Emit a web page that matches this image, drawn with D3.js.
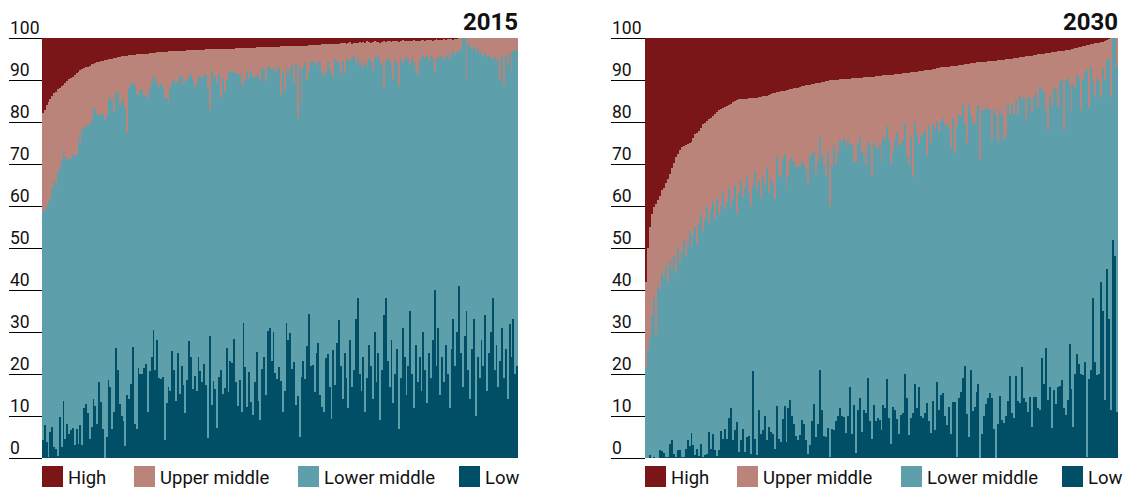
<!DOCTYPE html>
<html>
<head>
<meta charset="utf-8">
<script src="https://cdn.jsdelivr.net/npm/d3@7"></script>
<style>
  body { margin: 0; background: #fff; }
  svg text { font-family: Roboto, "Liberation Sans", sans-serif; fill: #111; }
</style>
</head>
<body>
<svg id="chart" width="1123" height="489"></svg>
<script>
// panels and legend
const years = ["2015", "2030"];
const seriesKeys = ["low", "lowerMiddle", "upperMiddle", "high"];
const seriesLabels = ["High", "Upper middle", "Lower middle", "Low"];
const yTicks = [0, 10, 20, 30, 40, 50, 60, 70, 80, 90, 100];

// 2015 - one entry per country, sorted by share of "High"
// share of high income
const high2015 = [
  17.9,17.2,16,15.2,14.6,13.8,13.2,12.8,12.2,11.8,11.4,11.1,10.6,10.2,9.8,9.5,9.2,8.7,8.3,8,7.7,7.4,7.2,7,6.8,6.6,6.3,6.1,5.9,5.8,5.6,
  5.5,5.4,5.3,5.2,5.1,5,4.9,4.8,4.7,4.6,4.5,4.4,4.4,4.3,4.2,4.1,4.1,4,4,3.9,3.9,3.8,3.8,3.8,3.7,3.7,3.6,3.6,3.5,3.5,
  3.4,3.4,3.4,3.3,3.3,3.3,3.2,3.2,3.2,3.1,3.1,3.1,3,3,3,3,2.9,2.9,2.9,2.9,
  2.9,2.9,2.8,2.8,2.8,2.8,2.7,2.7,2.7,2.7,2.7,2.6,2.6,2.6,2.6,2.6,2.5,2.5,2.5,2.5,
  2.5,2.5,2.4,2.4,2.4,2.4,2.4,2.3,2.3,2.3,2.3,2.3,2.3,2.2,2.2,2.2,2.2,2.2,2.2,2.2,
  2.2,2.1,2.1,2.1,2.1,2.1,2,2,2,2,2,1.9,1.9,1.9,1.9,1.9,1.9,1.8,1.8,1.8,
  1.8,1.7,1.7,1.7,1.6,1.6,1.6,1.6,1.5,1.5,1.5,1.5,1.5,1.4,1.4,1.4,1.4,1.4,1.3,1.3,
  1.3,1.5,1.2,1,1.4,1.2,1.1,1.3,0.9,1.1,1,1.2,0.8,1,1.1,0.9,0.7,1,0.9,1.1,
  0.9,0.8,1,0.7,0.8,0.9,0.6,0.8,0.7,0.9,0.7,0.5,0.7,0.8,0.6,0.6,0.7,0.5,0.6,0.7,
  0.6,0.4,0.5,0.6,0.5,0.4,0.5,0.6,0.4,0.3,0.4,0.5,0.4,0.3,0.4,0.3,0.2,0.3,0.4,0.3,
  0.2,0.1,
  0,0,0,0,0,0,0,0,0,0,0,0,0,0,0,0,0,0,0,0,0,0,0,0,0,0,0,0,0,0,0
];
// share of low + lower middle (top of the lower-middle band)
const upToLowerMid2015 = [
  58.5,59,60,62,61,64,66,65,68,69,71,73.5,72,71,71.5,71.3,72.3,72,72.5,77,
  75,78,78.5,79.2,79,79.5,80.8,83.5,83,82,81.6,82,82,80.4,81.6,86,85.5,85.2,82.5,87,
  87.2,84,85,85.2,83.3,77.3,88,89,89.2,88.5,86.4,86.4,87.6,87.6,86.4,86.4,85.7,88,89.5,91,
  90.5,89.5,88.3,
  89.2,88.2,85.6,85.6,84.5,88.2,89.6,90.1,89.2,89.6,90.9,90.6,88.8,89.6,90.1,90.9,91.4,90,88,89.3,
  90.6,90.8,90.4,91.4,91.2,88,82.8,92,90.3,91,89.3,91.4,85.6,90.4,87.2,90,92,91.8,92.4,91.6,
  91.6,91.4,91.2,89.2,88,90,92,90.4,92.4,90.8,90.8,91,91.4,90,92.6,92.6,89.6,93.3,92.8,92.4,
  93.3,92,92.4,93,86.4,92,87.6,93,91.2,92.6,93.6,89.2,94,81,93.2,84,92.8,94,90,92.4,
  94.3,94.6,94,93.2,94.4,94.4,92,91,92,94.4,92.4,92.2,90.8,95,94.4,94.4,
  91.5,94.5,91.6,94.8,95,94.5,95.2,95.6,94,95,93.5,94.8,92.8,94,93.6,95,94.6,92.5,95.4,95,
  96,94.2,93.5,88.4,94.5,95.2,94.6,93,90,94.8,93.8,88.5,95,94,95.2,94.8,95.3,93.8,95,94.2,
  92.5,91.2,94.5,95.8,96,95.2,95.8,94.6,96,95,92,94.8,95.5,95.2,95.6,94.8,95.4,96.2,95,96.5,
  96.8,96,96.6,97,97.5,100,100,90,99,97.8,97.5,98,96.8,97.3,96.2,96.8,95.8,96.5,95.4,96,
  95.2,94.8,95.5,94.6,95,90,96,88.8,95.8,94,96.5,92.5,96.8,97.2,97
];
// share of low income
const low2015 = [
  4.3,7.9,3.8,0.3,6.2,7.4,2.6,2.2,0.4,9.8,2.6,13.6,4.6,8.2,5.8,6.6,7.2,3,6.8,3.4,
  7.9,3.2,12,12.8,10.6,4.5,7.5,14,12.3,8,18,13.4,6.8,0,5,18.5,17,6.8,11,26.2,
  21,12.8,10,8.8,2.8,15,14,17.7,26.5,8,7,21.5,20,20,21.5,22.3,11,20.7,24,30.5,
  21,28,19,
  18.9,19.3,4.4,13,17,16,25.5,21,13.6,25,15.3,22,17.4,10.8,18.6,27.9,24.1,16.5,19.6,16,
  24,20.8,18,22.5,17.4,4.8,29.1,12.6,18.4,16.5,7.2,19.2,21,15.3,16.7,26.3,15.7,23,22.7,28.3,
  18.2,12.4,18.6,11,32.1,21.7,12.2,20.5,13.4,10.3,18.2,25.3,13.6,9.1,21.2,24.1,15,30.3,31,23.2,
  30,20.2,18.9,21.7,18.4,11,16,32.1,28,29.8,21.2,22.9,12.6,14.8,5.1,19.2,23.2,18.7,26.7,34.3,
  21.8,22.2,15.8,25.1,27.5,15,12.2,11,23.8,24.7,17,9.4,25.7,17.4,27.5,32.9,
  22,14,25,19,12,28,17,21,33,38,20,16,24,11,19,27,22,14,30,18,
  25,9,21,34,38,23,17,28,13,20,26,7,19,31,24,15,22,35,20,12,
  27,18,24,16,30,21,13,25,19,28,40,22,31,15,24,18,27,20,12,26,
  33,22,30,41,25,17,29,35,21,14,26,33,10,24,19,28,22,34,16,25,
  30,38,21,27,17,23,31,19,26,14,32,24,33,20,22
];

// 2030
const high2030 = [
  58,50,45,41.8,40.3,39.6,38.6,37.6,36.3,35.6,34.6,33.5,32.3,31,29.8,28.4,27.5,26.6,25.9,25.6,
  25.4,25.3,25.1,24.8,23.8,22.9,22.6,22.2,21.4,20.5,20.2,19.8,19.4,19,18.6,18.1,17.6,17.2,16.9,16.6,
  16.4,16.2,16,15.7,15.3,15,14.8,14.6,14.6,14.5,14.5,14.5,14.4,14.4,14.3,14.3,14.2,14.1,14,13.9,
  13.8,13.7,13.6,13.4,13.2,13.1,12.9,12.8,12.7,12.6,12.5,12.4,12.3,12.2,12.1,12,11.9,11.8,11.6,11.5,
  11.4,11.3,11.2,11.1,11,10.9,10.8,10.7,10.6,10.5,10.4,10.3,10.2,10.1,10.1,10,9.9,9.9,9.8,9.8,
  9.8,9.7,9.7,9.7,9.6,9.6,9.6,9.6,9.5,9.5,9.4,9.4,9.3,9.3,9.2,9.2,9.1,9.1,9,9,
  8.9,8.9,8.8,8.8,8.7,8.7,8.6,8.6,8.5,8.5,8.4,8.4,8.3,8.3,8.2,8.1,8.1,8,7.9,7.9,
  7.8,7.7,7.6,7.5,7.5,7.4,7.3,7.2,7.1,7,7,6.9,6.9,6.8,6.7,6.7,6.6,6.6,6.5,6.4,
  6.4,6.3,6.2,6.1,6,6,5.9,5.8,5.8,5.7,5.7,5.6,5.6,5.5,5.5,5.4,5.4,5.4,5.3,5.3,
  5.2,5.2,5.1,5.1,5,4.9,4.8,4.8,4.7,4.6,4.6,4.5,4.4,4.3,4.2,4.2,4.1,4,3.9,3.9,
  3.8,3.7,3.6,3.6,3.5,3.4,3.3,3.3,3.2,3.1,3.1,3,2.9,2.8,2.8,2.7,2.5,2.4,2.3,2.2,
  2.1,1.9,1.8,1.7,1.6,1.5,1.4,1.3,1.2,1.1,1,0.9,0.7,0.5,0.3,0.1,0,0,0
];
const upToLowerMid2030 = [
  21.5,26,28.6,34,38,29.6,41,40,44,43,46,42,47,45,48,44,50,47,49,52,
  48,51,54,50,53,55,51,56,58,54,57,60,56,59,61,57,62,58,60,63,
  59,61,64,60,62,65,58,63,66,62,64,67,63,60,65,68,64,66,62,67,
  65,69,63,
  66.4,65.3,61.7,71.6,67.6,66.8,71.2,72.4,64,67.2,70.4,71.6,70.4,69.2,69.4,69.6,70.8,70,68.5,65.3,
  71.6,72.4,72.8,67.6,70.8,76.5,72,69.7,67.2,73.2,60,69.5,74.4,70,72.6,75.8,75.2,76.3,74.4,75.6,
  74.6,74.8,70.4,70.4,74.8,76.5,72.8,72.2,69.7,75.2,74.4,67.2,75.2,74,73.6,74.8,70.8,76.5,75.8,79,
  76,70,73.2,75.8,77.6,74.4,74.8,75.6,79.8,72,69.7,76.5,66.8,80,77.2,74.8,76.7,77.2,78,72.2,
  79,
  75,79.6,78.4,80,77.6,80,81,79.2,79.2,78.4,74.1,81,72.6,79,81.6,81.2,84,79.8,74.9,84,
  81.6,79.8,79.6,82.7,84,71.2,82.8,82.8,83.4,83.2,83.2,75.6,82.8,81.6,75.2,82.8,81.6,75.8,76.8,84.3,
  81.6,84.3,82,85.2,81.6,86.4,85.2,86,80.8,85.6,85.6,82.4,86,86.8,83.6,88.5,87.6,87.2,82.8,78.2,
  86,83.7,88,87.6,83.6,89.6,90,78,90,90.4,88.8,82.4,88.8,88.2,91.2,90.4,82.8,90,92,92.3,
  83.6,93.2,89.6,86,90.4,89.6,85.9,92.7,90,94.7,95.1,85.9,100,100,93
];
const low2030 = [
  0,0,0.6,0,0.3,0,0,1.8,1.6,1.2,0.3,0.2,3.3,4.2,0.9,0.2,2,2,0.3,0.3,
  2.2,4.4,2.8,6,3,0.6,2.2,0.4,3.3,0.3,0.6,0.9,6.2,2.2,5.8,1.8,0.4,1.8,6.4,4.6,
  7,4.6,9.6,11.8,4.2,6.6,8.6,1.4,4.2,7,1.4,5,5.2,1,20.7,4.6,0.6,11.4,5.8,6.6,
  10,4.2,7.4,
  6.2,5.8,2.2,12.3,4.6,3.8,9.4,12.3,3.8,12,13.8,10,8.2,5.2,4.2,5.4,9.1,8.2,4.2,0.9,
  3,8.8,12.8,5,8,21,11.5,5.2,5,7.2,0.2,6.8,6.6,8.8,10,12,10,9.8,6,10,
  16.8,5.6,12.6,1.2,11.5,14.2,6.2,11.5,10.6,19,8.8,4.6,12.6,8.8,9.6,9,6.6,12.6,12,18.7,
  9.6,3.4,12.2,11.4,9.4,5.6,10.2,10.6,20,14.2,5.4,9.6,10.6,17.6,12,17,10,9.6,10.7,13.1,
  8.8,
  6,13.6,6.6,18.1,11.4,15,15.5,10,7.8,12.2,5.6,13.4,13.4,0.2,14.2,15.8,19,21.9,10.4,4.9,
  21,11.2,12.2,15.8,17.6,0,5.6,10,12.8,14.4,15.5,14.2,7,0,8,14.7,9.1,8.3,10,13.6,
  19.5,10.6,9.6,19.5,13.6,13.1,21.6,14.2,13.4,11,14.6,7.4,14.6,14.6,11.8,11.4,23.7,17.7,26.1,13.9,
  16.8,7.2,16.3,12.8,16.8,17.1,18.5,11.8,10.2,13.8,27.1,16.5,7.4,20,24.7,22.5,20.1,19.7,22.9,0.2,
  18.7,20.9,38,22.9,19.7,20.1,42,35,13.9,45,33,11.4,52,48,11
];

const colors = {
  high: "#7a1518",
  upperMiddle: "#ba847a",
  lowerMiddle: "#5d9fab",
  low: "#014f67"
};

function buildRows(low, upTo, high) {
  return low.map((v, i) => ({
    id: i,
    low: v,
    lowerMiddle: upTo[i] - v,
    upperMiddle: 100 - high[i] - upTo[i],
    high: high[i]
  }));
}

const panels = [
  { year: years[0], x0: 42, x1: 518, tickX: 9, rows: buildRows(low2015, upToLowerMid2015, high2015) },
  { year: years[1], x0: 645, x1: 1118, tickX: 611, rows: buildRows(low2030, upToLowerMid2030, high2030) }
];

const svg = d3.select("#chart");
const y = d3.scaleLinear().domain([0, 100]).range([458, 38]);

// legend order and offsets from panel left
const legendKeys = ["high", "upperMiddle", "lowerMiddle", "low"];
const legendX = d3.scaleOrdinal().domain(legendKeys).range([0, 92, 256, 417]);

panels.forEach(p => {
  const x = d3.scaleBand()
    .domain(p.rows.map(d => d.id))
    .range([p.x0, p.x1])
    .padding(0);

  const stacked = d3.stack().keys(seriesKeys)(p.rows);

  // one group per bar, drawn left to right, each a bit wider so no seams show
  const bars = p.rows.map((r, i) => stacked.map(s => ({ key: s.key, id: r.id, y0: s[i][0], y1: s[i][1] })));
  const last = p.rows.length - 1;

  svg.append("g")
    .attr("shape-rendering", "crispEdges")
    .selectAll("g")
    .data(bars)
    .join("g")
    .selectAll("rect")
    .data(d => d)
    .join("rect")
      .attr("x", d => x(d.id))
      .attr("width", d => x.bandwidth() + (d.id === last ? 0 : 0.6))
      .attr("y", d => y(d.y1))
      .attr("height", d => Math.max(0, y(d.y0) - y(d.y1)))
      .attr("fill", d => colors[d.key]);

  // y axis: short rules to the left with the number sitting on top
  const axis = d3.axisRight(y)
    .tickValues(yTicks)
    .tickSize(p.x0 - p.tickX)
    .tickFormat(d3.format("d"));

  svg.append("g")
    .attr("transform", `translate(${p.tickX},0)`)
    .call(axis)
    .call(g => g.select(".domain").remove())
    .call(g => g.selectAll(".tick line").attr("stroke", "#000").attr("stroke-width", 1.2))
    .call(g => g.selectAll(".tick text")
      .attr("x", 1)
      .attr("y", -5)
      .attr("dy", null)
      .attr("fill", "#111")
      .style("font-size", "17.5px"));

  // year title
  svg.append("text")
    .attr("x", p.x1)
    .attr("y", 30)
    .attr("text-anchor", "end")
    .style("font-size", "24px")
    .style("font-weight", "bold")
    .text(p.year);

  // legend
  const leg = svg.append("g")
    .selectAll("g")
    .data(legendKeys)
    .join("g")
      .attr("transform", k => `translate(${p.x0 + legendX(k)},466)`);

  leg.append("rect")
    .attr("width", 21)
    .attr("height", 21)
    .attr("fill", k => colors[k]);

  leg.append("text")
    .attr("x", 26)
    .attr("y", 18)
    .style("font-size", "18.5px")
    .text((k, i) => seriesLabels[i]);
});
</script>
</body>
</html>
